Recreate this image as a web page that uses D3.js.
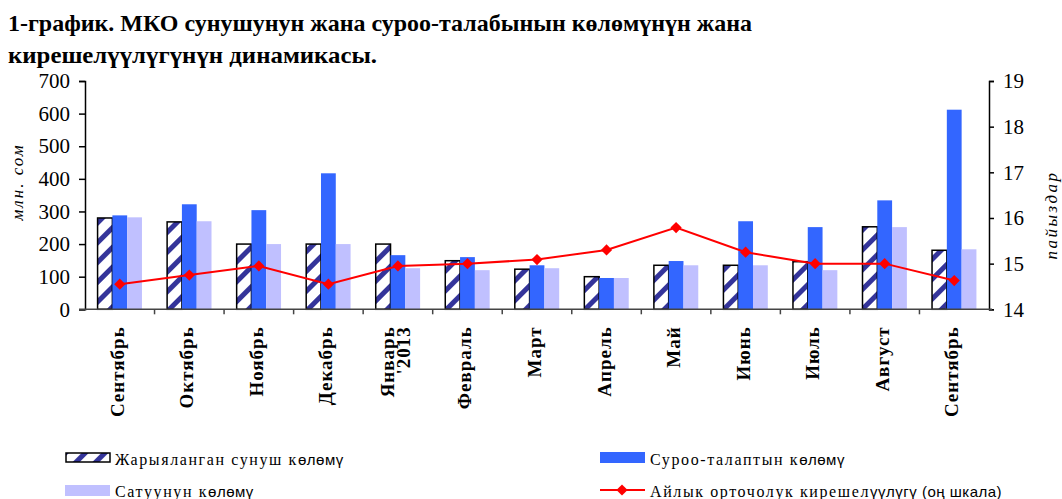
<!DOCTYPE html>
<html><head><meta charset="utf-8">
<script src="https://cdn.jsdelivr.net/npm/d3@7"></script>
</head>
<body style="margin:0;background:#fff">
<svg id="chart" width="1062" height="499" style="display:block"></svg>
<script>
const categories = ["Сентябрь","Октябрь","Ноябрь","Декабрь","Январь|'2013","Февраль","Март","Апрель","Май","Июнь","Июль","Август","Сентябрь"];
const offerVolume  = [280,268,200,200,200,149,123,100,135,135,146,253,181];
const demandVolume = [288,322,304,417,166,160,135,96,148,270,252,334,612];
const soldVolume   = [282,270,200,200,126,120,126,96,135,135,120,252,184];
const avgYield     = [14.55,14.75,14.95,14.55,14.95,15.0,15.09,15.3,15.79,15.25,15.0,15.0,14.63];
const leftTicks  = [0,100,200,300,400,500,600,700];
const rightTicks = [14,15,16,17,18,19];

const SERIF = '"Liberation Serif","Times New Roman",serif';
const SANS = '"Liberation Sans",Arial,sans-serif';

const svg = d3.select("#chart");
const defs = svg.append("defs");
const pat = defs.append("pattern").attr("id","hatch").attr("patternUnits","userSpaceOnUse")
  .attr("width",14).attr("height",14).attr("patternTransform","rotate(45)");
pat.append("rect").attr("width",14).attr("height",14).attr("fill","#fff");
pat.append("rect").attr("x",0).attr("width",5).attr("height",14).attr("fill","#34349a");

const L = 85, R = 989, T = 81, B = 309.3;
const idx = categories.map((d,i)=>i);
const x0 = d3.scaleBand().domain(idx).range([L,R]).padding(0);
const series = ["offer","demand","sold"];
const x1 = d3.scaleBand().domain(series).range([0,x0.bandwidth()]).paddingInner(0).paddingOuter(0.85);
const yL = d3.scaleLinear().domain([0,700]).range([B,T]);
const yR = d3.scaleLinear().domain([14,19]).range([B,T]);

function txt(sel){ return sel.style("font-family",SERIF).attr("fill","#000"); }

// title
txt(svg.append("text")).attr("x",8).attr("y",31).style("font-size","23px").style("font-weight","bold")
  .attr("textLength",744).attr("lengthAdjust","spacingAndGlyphs")
  .text("1-график. МКО сунушунун жана суроо-талабынын көлөмүнүн жана");
txt(svg.append("text")).attr("x",8).attr("y",63).style("font-size","23px").style("font-weight","bold")
  .attr("textLength",369).attr("lengthAdjust","spacingAndGlyphs")
  .text("кирешелүүлүгүнүн динамикасы.");

// bars
const seriesData = {offer:offerVolume, demand:demandVolume, sold:soldVolume};
const fills = {offer:"url(#hatch)", demand:"#3366ff", sold:"#c0c0ff"};
series.forEach(s=>{
  const g = svg.append("g");
  g.selectAll("rect").data(seriesData[s]).join("rect")
    .attr("x",(d,i)=>x0(i)+x1(s))
    .attr("y",d=>yL(d))
    .attr("width",x1.bandwidth())
    .attr("height",d=>B-yL(d))
    .attr("fill",fills[s])
    .attr("stroke",s==="offer"?"#000":"none")
    .attr("stroke-width",s==="offer"?1.5:0);
});

// axes
const axL = svg.append("g").attr("transform",`translate(${L},0)`)
  .call(d3.axisLeft(yL).tickValues(leftTicks).tickFormat(d3.format("d")).tickSize(6).tickPadding(9));
const axR = svg.append("g").attr("transform",`translate(${R},0)`)
  .call(d3.axisRight(yR).tickValues(rightTicks).tickFormat(d3.format("d")).tickSize(5).tickPadding(9));
[axL,axR].forEach(a=>{
  a.select(".domain").attr("stroke","#000").attr("stroke-width",1.5);
  a.selectAll(".tick line").attr("stroke","#000").attr("stroke-width",1.5);
  a.selectAll(".tick text").style("font-family",SERIF).style("font-size","21px").attr("fill","#000");
});

// bottom axis
const ax = svg.append("g");
ax.append("line").attr("x1",L-6).attr("x2",R+3).attr("y1",B).attr("y2",B).attr("stroke","#444").attr("stroke-width",1.5);
const bounds = idx.slice(1).map(i=>x0(i));
ax.selectAll("line.tk").data(bounds).join("line").attr("class","tk")
  .attr("x1",d=>d).attr("x2",d=>d).attr("y1",B).attr("y2",B+5).attr("stroke","#444").attr("stroke-width",1.5);

// x labels
function xlab(x, s){
  txt(svg.append("text")).attr("transform",`translate(${x},${B+17}) rotate(-90)`)
    .attr("text-anchor","end").style("font-size","19px").style("font-weight","bold").style("letter-spacing","1px")
    .text(s);
}
categories.forEach((c,i)=>{
  const cx = x0(i)+x0.bandwidth()/2;
  const parts = c.split("|");
  if(parts.length===1){ xlab(cx+4, parts[0]); }
  else { xlab(cx-4, parts[0]); xlab(cx+12, parts[1]); }
});

// line
const line = d3.line().x((d,i)=>x0(i)+x0.bandwidth()/2).y(d=>yR(d));
svg.append("path").datum(avgYield).attr("d",line).attr("fill","none").attr("stroke","#ff0000").attr("stroke-width",2);
svg.append("g").selectAll("path").data(avgYield).join("path")
  .attr("transform",(d,i)=>`translate(${x0(i)+x0.bandwidth()/2},${yR(d)})`)
  .attr("d",d3.symbol(d3.symbolDiamond2,80)()).attr("fill","#ff0000");

// axis titles
txt(svg.append("text")).attr("transform","translate(23,182) rotate(-90)").attr("text-anchor","middle")
  .style("font-size","17px").style("font-style","italic").style("letter-spacing","2px").text("млн. сом");
txt(svg.append("text")).attr("transform","translate(1057,215) rotate(-90)").attr("text-anchor","middle")
  .style("font-size","17px").style("font-style","italic").style("letter-spacing","2.5px").text("пайыздар");

// legend
const lg = svg.append("g");
lg.append("rect").attr("x",66).attr("y",453).attr("width",44).attr("height",9).attr("fill","url(#hatch)").attr("stroke","#000").attr("stroke-width",1.5);
lg.append("rect").attr("x",600).attr("y",452).attr("width",45).attr("height",11).attr("fill","#3366ff");
lg.append("rect").attr("x",65).attr("y",485).attr("width",45).attr("height",11).attr("fill","#c0c0ff");
lg.append("line").attr("x1",600).attr("x2",645).attr("y1",490).attr("y2",490).attr("stroke","#ff0000").attr("stroke-width",2);
lg.append("path").attr("transform","translate(622,490)").attr("d",d3.symbol(d3.symbolDiamond2,80)()).attr("fill","#ff0000");

function legText(x,y,serifPart,sansPart){
  const t = txt(lg.append("text")).attr("x",x).attr("y",y).style("font-size","16px");
  t.append("tspan").style("letter-spacing","1.6px").text(serifPart);
  t.append("tspan").style("font-family",SANS).style("font-size","15px").style("letter-spacing","0.5px").text(sansPart);
}
legText(115,465,"Жарыяланган сунуш к","өлөмү");
legText(650,465,"Суроо-талаптын к","өлөмү");
legText(115,497,"Сатуунун к","өлөмү");
legText(650,497,"Айлык орточолук кирешел","үүлүгү (оң шкала)");
</script>
</body></html>
